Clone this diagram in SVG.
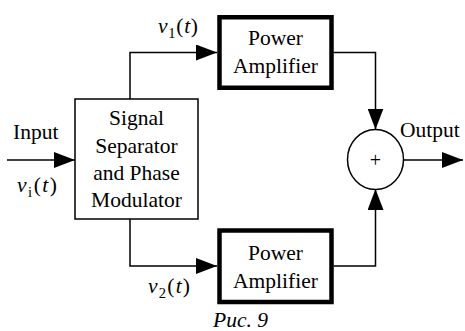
<svg xmlns="http://www.w3.org/2000/svg" width="465" height="331" viewBox="0 0 465 331">
<defs>
<marker id="arr" markerUnits="userSpaceOnUse" markerWidth="22" markerHeight="16" refX="21" refY="8" orient="auto">
<path d="M0,0 L21,8 L0,16 z" fill="#000"/>
</marker>
<style>
.t{font-family:"Liberation Serif","Times New Roman",serif;font-size:21.5px;fill:#000}
.c{text-anchor:middle}
.i{font-style:italic}
.sub{font-size:14.5px;font-style:normal}
.thin{fill:#fff;stroke:#000;stroke-width:1.5}
.thick{fill:#fff;stroke:#000;stroke-width:4.5}
.ln{fill:none;stroke:#000;stroke-width:1.5}
</style>
</defs>
<rect width="465" height="331" fill="#fff"/>
<g id="connectors">
<path class="ln" d="M7,160 H75" marker-end="url(#arr)"/>
<path class="ln" d="M130,99 V52.5 H217" marker-end="url(#arr)"/>
<path class="ln" d="M130,219 V266 H217" marker-end="url(#arr)"/>
<path class="ln" d="M333.5,52.5 H375.5 V129.5" marker-end="url(#arr)"/>
<path class="ln" d="M333.5,266 H375.5 V189" marker-end="url(#arr)"/>
<path class="ln" d="M403.5,160 H463" marker-end="url(#arr)"/>
</g>
<g id="separator">
<rect class="thin" x="75" y="99" width="123" height="120"/>
<text class="t c" x="136.5" y="125">Signal</text>
<text class="t c" x="136.5" y="152.5">Separator</text>
<text class="t c" x="136.5" y="180">and Phase</text>
<text class="t c" x="136.5" y="207">Modulator</text>
</g>
<g id="pa1">
<rect class="thick" x="219.5" y="17.25" width="112" height="70.5"/>
<text class="t c" x="275.5" y="45">Power</text>
<text class="t c" x="275.5" y="72.5">Amplifier</text>
</g>
<g id="pa2">
<rect class="thick" x="219.5" y="230.5" width="112" height="71.5"/>
<text class="t c" x="275.5" y="259.5">Power</text>
<text class="t c" x="275.5" y="288">Amplifier</text>
</g>
<g id="sum">
<ellipse class="thin" cx="375.5" cy="159.5" rx="28" ry="30"/>
<text class="t c" x="375.5" y="167" style="font-size:20px">+</text>
</g>
<g id="labels">
<text class="t" x="13" y="139">Input</text>
<text class="t" x="400" y="137">Output</text>
<text class="t" x="17" y="191.5" textLength="40" lengthAdjust="spacing"><tspan class="i">v</tspan><tspan class="sub" dy="5">i</tspan><tspan dy="-5">(</tspan><tspan class="i">t</tspan>)</text>
<text class="t" x="158" y="33" textLength="40" lengthAdjust="spacing"><tspan class="i">v</tspan><tspan class="sub" dy="5">1</tspan><tspan dy="-5">(</tspan><tspan class="i">t</tspan>)</text>
<text class="t" x="148" y="293" textLength="42" lengthAdjust="spacing"><tspan class="i">v</tspan><tspan class="sub" dy="5">2</tspan><tspan dy="-5">(</tspan><tspan class="i">t</tspan>)</text>
<text class="t i" x="213" y="326.5">Рис. 9</text>
</g>
</svg>
